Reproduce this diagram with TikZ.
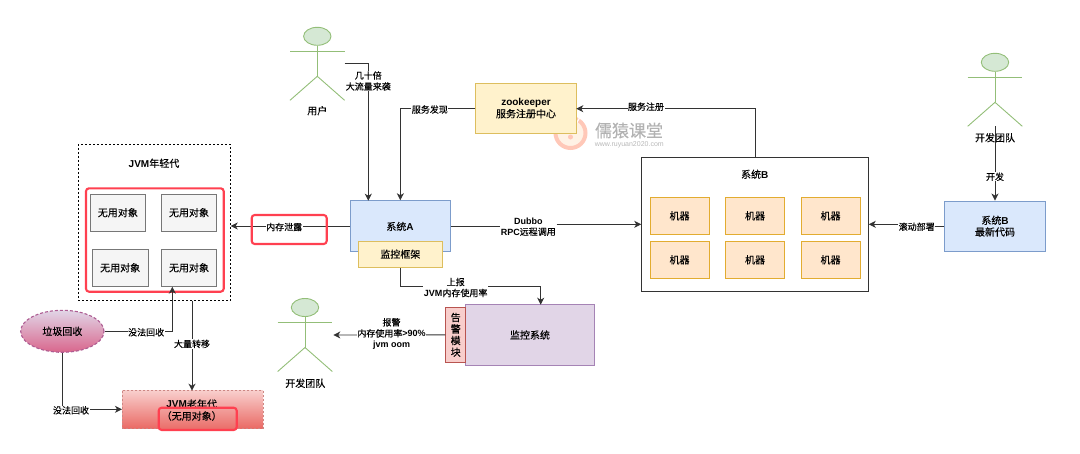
\documentclass[tikz,border=0pt]{standalone}
\usepackage{fontspec}
\setmainfont{Noto Sans CJK SC}[FakeBold=0.2]
\newfontfamily\latfont{Liberation Sans}
\newcommand{\lat}[1]{{\latfont\bfseries #1}}
\usetikzlibrary{arrows.meta,shapes.geometric}
\definecolor{redline}{HTML}{FF4050}
\definecolor{colA}{HTML}{7C9CCB}\definecolor{fillA}{HTML}{DAE8FC}
\definecolor{colY}{HTML}{DDBE5E}\definecolor{fillY}{HTML}{FFF2CC}
\definecolor{colO}{HTML}{E2AC30}\definecolor{fillO}{HTML}{FFE6CC}
\definecolor{colG}{HTML}{777777}\definecolor{fillG}{HTML}{F5F5F5}
\definecolor{colP}{HTML}{93BE78}\definecolor{fillP}{HTML}{D5E8D4}
\definecolor{colU}{HTML}{A583B5}\definecolor{fillU}{HTML}{E1D5E7}
\definecolor{colR}{HTML}{B85450}\definecolor{fillR}{HTML}{F8CECC}
\definecolor{endR}{HTML}{EA6B66}
\tikzset{
    box/.style={draw, line width=0.9pt, inner sep=0pt, align=center, font=\fontsize{10}{11.6}\selectfont},
    bluebox/.style={box, draw=colA, fill=fillA},
    yellowbox/.style={box, draw=colY, fill=fillY},
    machine/.style={box, draw=colO, fill=fillO, minimum width=59pt, minimum height=37.7pt},
    object/.style={box, draw=colG, fill=fillG, minimum width=55.7pt, minimum height=36.7pt},
    redmark/.style={draw=redline, line width=2.1pt, rounded corners=3pt, inner sep=0pt},
    lbl/.style={fill=white, inner sep=0.5pt, align=center, font=\fontsize{9}{11}\selectfont},
    txt/.style={inner sep=0pt, align=center, font=\fontsize{10}{11.6}\selectfont},
    line/.style={line width=0.9pt, draw=black!80},
    arr/.style={line, -{Stealth[length=7pt,width=7pt,inset=2pt]}},
    limb/.style={draw=colP, line width=0.9pt},
    head/.style={draw=colP, fill=fillP, line width=0.9pt, ellipse, inner sep=0pt, minimum width=27.4pt, minimum height=18pt},
}
% one stick figure: #1 name, #2 centre x, #3 head y
\newcommand{\actor}[3]{
    \node[head] (#1head) at (#2,#3) {};
    \coordinate (#1hip) at (#2,#3+40);
    \coordinate (#1feet) at (#2,#3+64);
    \draw[limb] (#1head.south) -- (#1hip);
    \draw[limb] (#2-27.3,#3+15) -- (#2+27.3,#3+15);
    \draw[limb] (#2-27.3,#3+64) -- (#1hip) -- (#2+27.3,#3+64);
}
\begin{document}
\begin{tikzpicture}[x=1pt, y=-1pt]
    \useasboundingbox (0,0) rectangle (1080,453);
    % watermark
    \node[circle, draw=orange!45!red!28, line width=4pt, fill=orange!10, minimum size=30pt, inner sep=0pt] (logo) at (570.5,133) {};
    \draw[white, line width=1.2pt] (561,117) -- (564,124) -- (567,116) -- (570,123) -- (573,116) -- (576,124) -- (580,117);
    \node[circle, fill=orange!45!red!28, minimum size=5pt, inner sep=0pt] (logoface) at (570.5,137) {};
    \node[text=black!30, inner sep=0pt, font=\fontsize{17}{17}\selectfont] (wmark) at (629,130.5) {儒猿课堂};
    \node[text=black!28, inner sep=0pt, font=\latfont\fontsize{7}{8}\selectfont] (wmurl) at (629.3,144.7) {www.ruyuan2020.com};
    % young generation
    \node[box, draw=black, line width=0.8pt, dash pattern=on 2pt off 2pt, minimum width=152pt, minimum height=156.4pt] (young) at (154.3,222.5) {};
    \node[txt] (youngname) at (154,163.3) {\lat{JVM}年轻代};
    \node[object] (objA) at (117.85,212.65) {无用对象};
    \node[object] (objB) at (189,212.65) {无用对象};
    \node[object] (objC) at (120.15,267.8) {无用对象};
    \node[object] (objD) at (189,267.8) {无用对象};
    \node[redmark, minimum width=137.7pt, minimum height=103.4pt] (objmark) at (154.85,240) {};
    % old generation
    \node[box, draw=colR!70!white, line width=0.6pt, dash pattern=on 2pt off 2pt, top color=fillR, bottom color=endR, minimum width=141pt, minimum height=37.3pt] (old) at (192.5,409.35) {};
    \node[txt] (oldname) at (191.7,404) {\lat{JVM}老年代};
    \node[redmark, top color=endR!45!fillR, bottom color=endR, minimum width=78pt, minimum height=22.3pt] (oldmark) at (197.7,418.85) {};
    \node[txt] (oldobj) at (191.7,416) {（无用对象）};
    \node[box, ellipse, draw=colU!70!purple, line width=1.1pt, dash pattern=on 3pt off 2pt, top color=fillU, bottom color=purple!60!white, minimum width=83.3pt, minimum height=42pt] (gc) at (62.35,331.3) {垃圾回收};
    \coordinate (objDin) at (172.3,286.7);
    \coordinate (oldin) at (122,409.3);
    \coordinate (youngout) at (192,300.7);
    \coordinate (oldtop) at (192,390.7);
    % systems
    \node[bluebox, minimum width=100.7pt, minimum height=50.6pt] (sysA) at (400.35,226) {};
    \node[txt] (sysAname) at (400,226.5) {系统\lat{A}};
    \node[yellowbox, minimum width=84.7pt, minimum height=26.3pt] (frame) at (400.35,254.15) {监控框架};
    \node[yellowbox, minimum width=100.6pt, minimum height=50.4pt] (zk) at (526,108.5) {\lat{zookeeper}\\服务注册中心};
    \node[box, draw=black!80, fill=white, minimum width=226.6pt, minimum height=134pt] (sysB) at (755,224.3) {};
    \node[txt] (sysBname) at (754.7,174.3) {系统\lat{B}};
    \foreach \col/\cx in {a/679.5,b/755,c/830.5}
        \foreach \row/\cy in {u/215.85,d/259.85}
            \node[machine] (m\col\row) at (\cx,\cy) {机器};
    \node[bluebox, minimum width=100.6pt, minimum height=50.3pt] (newB) at (995,226.15) {系统\lat{B}\\最新代码};
    \node[box, draw=colU, fill=fillU, minimum width=128.6pt, minimum height=60.6pt] (monsys) at (530,335) {监控系统};
    \node[box, draw=colR, fill=fillR, minimum width=20pt, minimum height=55pt] (alarm) at (455.7,334.8) {告\\警\\模\\块};
    % people
    \actor{user}{317.3}{36.3}
    \actor{devA}{995}{62.3}
    \actor{devB}{305}{307.5}
    \coordinate (userhand) at (344.6,63.7);
    \coordinate (sysAin) at (368.3,200.7);
    \coordinate (devBin) at (333.3,335);
    \coordinate (monin) at (540.7,304.7);
    \coordinate (zkin) at (576.3,108.7);
    \coordinate (sysBup) at (755,157.3);
    % connectors
    \draw[arr] (sysA.west) -- node[lbl, pos=0.55, yshift=-1pt] (leaklbl) {内存泄露} (sysA.west -| young.east);
    \node[redmark, minimum width=75pt, minimum height=29pt] (leakmark) at (289.2,229.5) {};
    \draw[arr] (gc.east) -| node[lbl, pos=0.307, yshift=-1pt] (gclblA) {没法回收} (objDin);
    \draw[arr] (gc.south) |- node[lbl, pos=0.573, yshift=-1pt] (gclblB) {没法回收} (oldin);
    \draw[arr] (youngout) -- node[lbl, pos=0.48] (movelbl) {大量转移} (oldtop);
    \draw[arr] (userhand) -| node[lbl, pos=0.563] (userlbl) {几十倍\\大流量来袭} (sysAin);
    \draw[arr] (zk.west) -| node[lbl, pos=0.303, yshift=-1pt] (findlbl) {服务发现} (sysA.north);
    \draw[arr] (sysBup) |- node[lbl, pos=0.805, yshift=2pt] (reglbl) {服务注册} (zkin);
    \node[lbl, minimum width=56pt] (dubbolbl) at (528.3,226.7) {\lat{Dubbo}\\\lat{RPC}远程调用};
    \draw[line] (sysA.east) -- (sysA.east -| dubbolbl.west);
    \draw[arr] (dubbolbl.east |- sysB.west) -- (sysB.west);
    \node[lbl] (rolllbl) at (916.7,226.7) {滚动部署};
    \draw[line] (newB.west) -- (rolllbl.east |- newB.west);
    \draw[arr] (rolllbl.west |- sysB.east) -- (sysB.east);
    \draw[arr] (devAfeet) -- node[lbl, pos=0.68] (devlbl) {开发} (newB.north);
    \draw[arr] (frame.south) |- (monin |- 0,286) -- (monin);
    \node[lbl] (uplbl) at (455.7,287.5) {上报\\\lat{JVM}内存使用率};
    \draw[arr] (alarm.west) -- node[lbl, pos=0.48, yshift=1pt] (warnlbl) {报警\\内存使用率\lat{>90\%}\\\lat{jvm oom}} (devBin);
    % captions stay above the lines
    \node[txt] (username) at (317.3,110.7) {用户};
    \node[txt] (devAname) at (995,137.7) {开发团队};
    \node[txt] (devBname) at (305.3,383.3) {开发团队};
\end{tikzpicture}
\end{document}
